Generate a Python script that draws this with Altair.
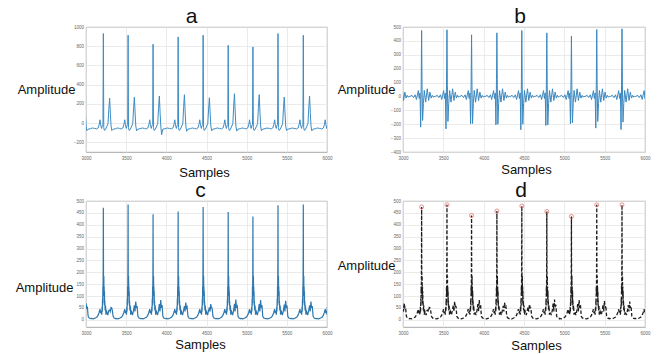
import altair as alt
import pandas as pd

X_MIN, X_MAX = 3000, 6000
x_ticks = [3000, 3500, 4000, 4500, 5000, 5500, 6000]
panel_letters = ["a", "b", "c", "d"]

# ---------------- panel a : raw ECG ----------------
a_peaks = [2905, 3216, 3524, 3835, 4147, 4458, 4770, 5078, 5390, 5705, 6020]
a_r = [850, 932, 915, 821, 897, 915, 810, 793, 932, 915, 880]
a_t = [270, 261, 271, 282, 296, 264, 306, 296, 271, 282, 270]
a_dip = [-78, -77, -80, -120, -85, -80, -82, -80, -78, -80, -78]
a_off = [-105, -85, -65, -52, -42, -32, -22, -12, -5, 0, 5, 12, 25, 40, 58,
         68, 78, 88, 96, 106, 122, 150, 175, 200]
a_val = [-55, -60, -50, -15, 35, -25, -55, -20, -15, ("R", 1), -45, -75, -68, -40, -5,
         ("T", 0.55), ("T", 1), ("T", 0.35), -30, ("D", 1), -62, -58, -50, -55]

# ---------------- panel b : band-pass filtered ----------------
b_peaks = [2920, 3231, 3545, 3850, 4164, 4473, 4783, 5088, 5402, 5715, 6030]
b_r = [460, 475, 480, 444, 458, 475, 458, 434, 482, 487, 470]
b_n1 = [-215, -221, -233, -197, -204, -240, -209, -197, -228, -238, -220]
b_n2 = [-170, -173, -180, -195, -200, -200, -205, -190, -180, -185, -180]
b_off = [-145, -120, -100, -80, -65, -53, -41, -30, -20, -12, -5, 0, 5, 12, 22,
         33, 50, 70, 87, 103, 118, 132, 145, 155]
b_val = [0, 8, -8, 12, -22, 10, 42, -15, 25, ("N1", 1), 120, ("R", 1), 80, ("N2", 1), -50,
         43, -41, 55, -29, 31, -12, 8, -5, 0]

# ---------------- panel c / d : envelope ----------------
c_peaks = a_peaks
c_r = [450, 472, 485, 444, 456, 475, 454, 435, 482, 485, 470]
c_s = [210, 224, 238, 197, 207, 242, 207, 197, 232, 242, 220]
c_t = [70, 52, 77, 83, 73, 66, 85, 83, 80, 77, 75]
d_peaks = b_peaks
d_r = [450, 475, 484, 439, 458, 479, 456, 435, 484, 484, 470]
env_off = [-150, -125, -100, -80, -65, -52, -42, -34, -26, -20, -16, -13, -10, -8, -6,
           -4, -2, 0, 2, 4, 6, 8, 10, 12, 14, 16, 18, 22, 27, 32, 42, 55, 68, 78, 86,
           95, 104, 112, 122, 135, 155]
env_val = [6, 4, 8, 12, 20, 32, 45, 28, 38, 22, 55, 35, 90, 60, 140,
           110, ("S", 1), ("R", 1), ("S", 0.72), 150, 185, 100, 140, 70, 120, 60, 80,
           40, 60, 22, 35, 20, 40, ("T", 0.8), 35, ("T", 1), 50, ("T", 0.75), 15, 8, 5]


def build(panel, peaks, offs, vals, params):
    rows = []
    k = 0
    for i, p in enumerate(peaks):
        for off, v in zip(offs, vals):
            if isinstance(v, tuple):
                val = params[v[0]][i] * v[1]
            else:
                val = v
            s = p + off
            if X_MIN - 40 <= s <= X_MAX + 40:
                rows.append({"panel": panel, "s": s, "v": val, "i": k})
                k += 1
    return pd.DataFrame(rows)


df_a = build("a", a_peaks, a_off, a_val, {"R": a_r, "T": a_t, "D": a_dip})
df_b = build("b", b_peaks, b_off, b_val, {"R": b_r, "N1": b_n1, "N2": b_n2})
df_c = build("c", c_peaks, env_off, env_val, {"R": c_r, "S": c_s, "T": c_t})
df_d = build("d", d_peaks, env_off, env_val, {"R": d_r, "S": c_s, "T": c_t})
df_pk = pd.DataFrame({"s": d_peaks[1:-1], "v": d_r[1:-1]})

FONT = "Liberation Sans"


def panel(df, letter, ydom, yvals, color, width, height, amp_x, amp_y, samp_x, samp_y,
          title_dx, dash=None, sw=1.0, peaks_df=None):
    mark_kw = dict(clip=True, color=color, strokeWidth=sw)
    if dash:
        mark_kw["strokeDash"] = dash
    xs = alt.Scale(domain=[X_MIN, X_MAX], nice=False, zero=False)
    ys = alt.Scale(domain=ydom, nice=False, zero=False)
    xenc = alt.X("s:Q", scale=xs,
                 axis=alt.Axis(values=x_ticks, format="d", title="Samples", titleX=samp_x,
                               titleY=samp_y, titleAlign="center", titleBaseline="alphabetic",
                               labelPadding=3))
    yenc = alt.Y("v:Q", scale=ys,
                 axis=alt.Axis(values=yvals, format="d", title="Amplitude", titleAngle=0,
                               titleX=amp_x, titleY=amp_y, titleAlign="right",
                               titleBaseline="alphabetic", labelPadding=2.5))
    line = alt.Chart(df).mark_line(**mark_kw).encode(x=xenc, y=yenc, order="i:Q")
    layers = [line]
    if peaks_df is not None:
        layers.append(alt.Chart(peaks_df).mark_point(
            shape="circle", filled=False, color="#d9534f", size=16, strokeWidth=0.9,
            clip=True).encode(x=xenc, y=yenc))
    label = alt.Chart(pd.DataFrame({"t": [letter]})).mark_text(
        fontSize=21, font=FONT, baseline="alphabetic", align="center", color="#111111"
    ).encode(text="t:N", x=alt.value(width / 2 + title_dx), y=alt.value(-4.5))
    layers.append(label)
    return alt.layer(*layers).properties(width=width, height=height)


pa = panel(df_a, panel_letters[0], [-300, 1000], list(range(-200, 1001, 200)), "#3d8cc4",
           241, 125, -11, 66, 118, 24.5, -15)
pb = panel(df_b, panel_letters[1], [-400, 500], list(range(-400, 501, 100)), "#3a88c0",
           242, 125, -8, 66, 123, 21, -4)
pc = panel(df_c, panel_letters[2], [-30, 500], list(range(0, 501, 50)), "#2e78ae",
           241, 126, -13, 90, 114, 21, -6, sw=1.2)
pd_ = panel(df_d, panel_letters[3], [-30, 500], list(range(0, 501, 50)), "#1e1e1e",
            242, 126, -8, 68, 133, 22.5, -3, dash=[3.5, 2], sw=1.3, peaks_df=df_pk)

chart = alt.concat(pa, pb, pc, pd_, columns=2, spacing={"row": 49, "column": 76},
                   bounds="flush").properties(
    padding={"left": 14, "top": 5, "right": 4, "bottom": 0},
    background="white",
).configure_view(stroke="#8f8f8f", strokeWidth=0.8).configure_axis(
    labelFont=FONT, labelFontSize=4.5, labelColor="#666666", labelFlush=False,
    ticks=False, domain=False, grid=True, gridColor="#e2e2e2", gridWidth=0.7,
    titleFont=FONT, titleFontSize=13, titleFontWeight="normal", titleColor="#111111",
)

chart.save("out.html", embed_options={"renderer": "svg", "actions": False})
